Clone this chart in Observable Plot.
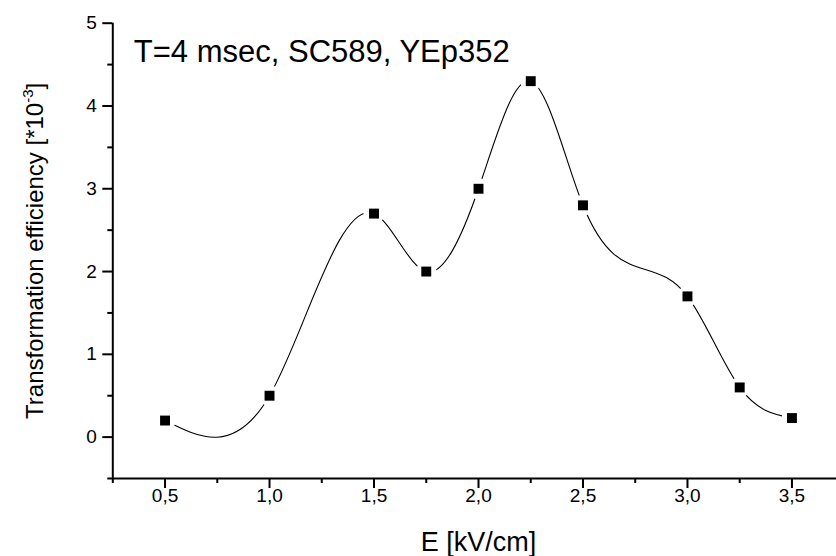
<!DOCTYPE html>
<html>
<head>
<meta charset="utf-8">
<script src="https://cdn.jsdelivr.net/npm/d3@7"></script>
<script src="https://cdn.jsdelivr.net/npm/@observablehq/plot@0.6"></script>
<style>
  html, body { margin: 0; padding: 0; background: #fff; overflow: hidden; }
  #chart svg { display: block; }
</style>
</head>
<body>
<div id="chart"></div>
<script>
// ---- data ----
const eField = [0.5, 1.0, 1.5, 1.75, 2.0, 2.25, 2.5, 3.0, 3.25, 3.5];
const efficiency = [0.2, 0.5, 2.7, 2.0, 3.0, 4.3, 2.8, 1.7, 0.6, 0.23];
const xTicks = [0.5, 1.0, 1.5, 2.0, 2.5, 3.0, 3.5];
const xMinorTicks = [0.25, 0.75, 1.25, 1.75, 2.25, 2.75, 3.25, 3.75];
const yTicks = [0, 1, 2, 3, 4, 5];
const yMinorTicks = [-0.5, 0.5, 1.5, 2.5, 3.5, 4.5];
const titleText = "T=4 msec, SC589, YEp352";
const xLabel = "E [kV/cm]";
const yLabel = "Transformation efficiency [*10-3]";

const points = eField.map((e, i) => ({e, v: efficiency[i]}));

// natural cubic spline y(x) curve (Origin-style "Spline" connection)
function naturalSplineX(context) {
  let xs, ys;
  return {
    areaStart() {}, areaEnd() {},
    lineStart() { xs = []; ys = []; },
    point(x, y) { xs.push(+x); ys.push(+y); },
    lineEnd() {
      const n = xs.length;
      if (!n) return;
      context.moveTo(xs[0], ys[0]);
      if (n === 1) return;
      if (n === 2) { context.lineTo(xs[1], ys[1]); return; }
      const h = [];
      for (let i = 0; i < n - 1; i++) h[i] = xs[i + 1] - xs[i];
      const a = [], b = [], c = [], d = [];
      for (let i = 1; i < n - 1; i++) {
        a.push(h[i - 1]); b.push(2 * (h[i - 1] + h[i])); c.push(h[i]);
        d.push(6 * ((ys[i + 1] - ys[i]) / h[i] - (ys[i] - ys[i - 1]) / h[i - 1]));
      }
      const m = a.length;
      for (let i = 1; i < m; i++) {
        const w = a[i] / b[i - 1];
        b[i] -= w * c[i - 1];
        d[i] -= w * d[i - 1];
      }
      const sol = new Array(m);
      sol[m - 1] = d[m - 1] / b[m - 1];
      for (let i = m - 2; i >= 0; i--) sol[i] = (d[i] - c[i] * sol[i + 1]) / b[i];
      const M = new Array(n).fill(0);
      for (let i = 1; i < n - 1; i++) M[i] = sol[i - 1];
      for (let i = 0; i < n - 1; i++) {
        const hi = h[i];
        const s = (ys[i + 1] - ys[i]) / hi;
        const m0 = s - hi * (2 * M[i] + M[i + 1]) / 6;
        const m1 = s + hi * (M[i] + 2 * M[i + 1]) / 6;
        context.bezierCurveTo(xs[i] + hi / 3, ys[i] + m0 * hi / 3,
                              xs[i + 1] - hi / 3, ys[i + 1] - m1 * hi / 3,
                              xs[i + 1], ys[i + 1]);
      }
    }
  };
}

const fmt = d => d.toFixed(1).replace(".", ",");

const chart = Plot.plot({
  width: 836,
  height: 556,
  marginLeft: 112.3,
  marginRight: -7.7,
  marginTop: 22.7,
  marginBottom: 78,
  style: {fontFamily: "'Liberation Sans', Arial, sans-serif", background: "white", color: "black", overflow: "hidden"},
  x: {domain: [0.25, 3.75]},
  y: {domain: [-0.5, 5]},
  marks: [
    Plot.line(points, {x: "e", y: "v", curve: naturalSplineX, stroke: "black", strokeWidth: 1.1}),
    Plot.dot(points, {x: "e", y: "v", r: 10.5, fill: "white", stroke: "none"}),
    Plot.dot(points, {x: "e", y: "v", symbol: "square", r: 5.6, fill: "black", stroke: "none"}),
    Plot.axisX(xTicks, {tickSize: 10, tickPadding: 0, fontSize: 19, strokeWidth: 2, tickFormat: fmt, label: null}),
    Plot.axisX(xMinorTicks, {tickSize: 5, text: null, strokeWidth: 2, label: null}),
    Plot.axisY(yTicks, {tickSize: 10, tickPadding: 6, fontSize: 19, strokeWidth: 2, tickFormat: d => String(d), label: null}),
    Plot.axisY(yMinorTicks, {tickSize: 5, text: null, strokeWidth: 2, label: null}),
    Plot.ruleX([0.25], {strokeWidth: 2}),
    Plot.ruleY([-0.5], {strokeWidth: 2}),
    Plot.text([titleText], {frameAnchor: "top-left", dx: 21, dy: 39, lineAnchor: "bottom", textAnchor: "start", fontSize: 31}),
    Plot.text([xLabel], {frameAnchor: "bottom", dy: 72.5, lineAnchor: "bottom", fontSize: 27}),
    Plot.text([yLabel], {frameAnchor: "left", dx: -70, rotate: -90, lineAnchor: "bottom", textAnchor: "middle", fontSize: 24})
  ]
});

// superscript exponent in y label
chart.querySelectorAll("text").forEach(t => {
  if (t.textContent === yLabel) {
    t.textContent = "";
    const ns = "http://www.w3.org/2000/svg";
    const base = document.createElementNS(ns, "tspan");
    base.textContent = "Transformation efficiency [*10";
    const sup = document.createElementNS(ns, "tspan");
    sup.textContent = "-3";
    sup.setAttribute("font-size", "15");
    sup.setAttribute("dy", "-10");
    const close = document.createElementNS(ns, "tspan");
    close.textContent = "]";
    close.setAttribute("dy", "10");
    t.append(base, sup, close);
  }
});

document.getElementById("chart").append(chart);
</script>
</body>
</html>
